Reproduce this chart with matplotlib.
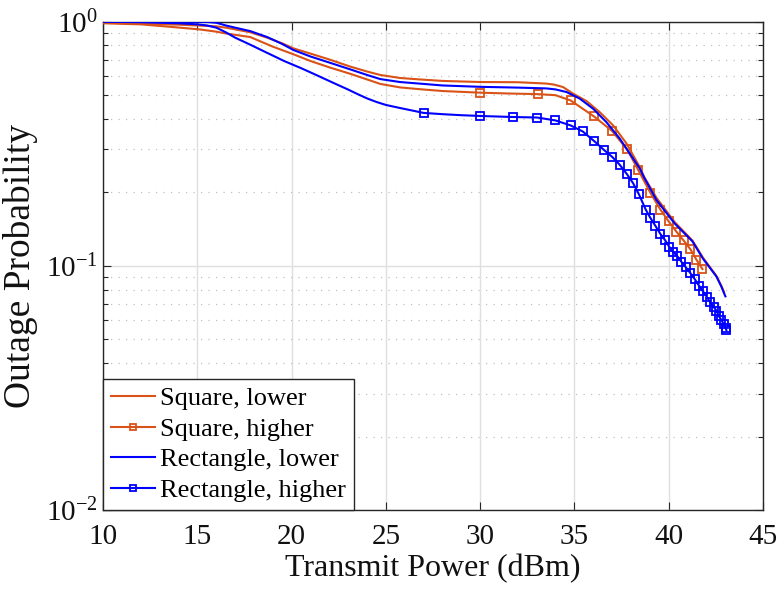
import numpy as np
import matplotlib
matplotlib.use("Agg")
import matplotlib.pyplot as plt
from matplotlib.ticker import FixedLocator, FixedFormatter, NullFormatter

plt.rcParams['font.family'] = ['Liberation Serif', 'DejaVu Serif']
plt.rcParams['mathtext.fontset'] = 'custom'
plt.rcParams['mathtext.rm'] = 'Liberation Serif'
plt.rcParams['mathtext.it'] = 'Liberation Serif:italic'

# ---------------- data ----------------
sq_low_x = [10, 12, 14, 15, 16, 16.5, 17, 17.8, 18.7, 19.5, 20.1, 21, 22, 23.1, 24, 24.7,
            25.75, 26.8, 28, 30, 32, 33.5, 33.9, 34.4, 34.94, 35.65, 36.35, 37.06, 37.77,
            38.47, 38.7, 39.36, 40.33, 41.27, 41.83, 42.54, 42.8, 42.95]
sq_low_y = [0.99, 0.982, 0.972, 0.965, 0.957, 0.945, 0.93, 0.905, 0.86, 0.815, 0.777, 0.74,
            0.70, 0.655, 0.625, 0.605, 0.588, 0.58, 0.572, 0.566, 0.565, 0.558, 0.553, 0.540,
            0.507, 0.473, 0.426, 0.376, 0.317, 0.254, 0.232, 0.19, 0.151, 0.127, 0.108,
            0.091, 0.083, 0.078]

sq_high_x = [10, 12, 13.4, 15.1, 16, 16.5, 17.8, 19.0, 20.1, 21, 22, 23.1, 24, 24.7, 25.75,
             26.8, 28, 30, 31.5, 33.05, 34.0, 34.8, 36.03, 37.0, 37.8, 38.38, 39.04, 39.57,
             40.01, 40.42, 40.8, 41.16, 41.48, 41.8]
sq_high_y = [0.985, 0.975, 0.955, 0.93, 0.91, 0.895, 0.865, 0.79, 0.735, 0.69, 0.65, 0.612,
             0.58, 0.556, 0.538, 0.529, 0.52, 0.512, 0.508, 0.505, 0.50, 0.476, 0.41, 0.357,
             0.30, 0.248, 0.199, 0.170, 0.152, 0.138, 0.127, 0.117, 0.106, 0.097]
sq_high_marks = [30, 33.05, 34.8, 36.03, 37.0, 37.8, 38.38, 39.04, 39.57, 40.01, 40.42,
                 40.8, 41.16, 41.48, 41.8]

rect_low_x = [10, 14, 15.5, 16.0, 16.5, 17.0, 17.8, 18.7, 19.5, 20.1, 21, 22, 23.1, 24, 24.7,
              25.75, 27, 28, 30, 32, 33.5, 34.0, 34.59, 35.29, 36.0, 36.7, 37.41, 38.12,
              38.47, 38.68, 39.36, 40.33, 41.27, 41.83, 42.54, 42.8, 42.98, 43.02]
rect_low_y = [1.0, 1.0, 0.998, 0.99, 0.965, 0.945, 0.915, 0.865, 0.81, 0.765, 0.72, 0.68,
              0.638, 0.605, 0.582, 0.566, 0.556, 0.548, 0.541, 0.537, 0.533, 0.528, 0.515,
              0.484, 0.44, 0.388, 0.332, 0.275, 0.251, 0.232, 0.186, 0.149, 0.126, 0.107,
              0.0905, 0.0824, 0.0762, 0.075]

rect_high_x = [10, 12, 14, 15, 15.5, 16, 16.5, 17, 17.8, 18.7, 19.6, 20.5, 21.3, 22.2, 23.0,
               23.5, 24.0, 24.5, 25.0, 25.75, 26.5, 27.0, 28, 29, 30.0, 31.74, 33.03, 34.0,
               34.8, 35.45, 36.06, 36.56, 37.02, 37.4, 37.8, 38.12, 38.42, 38.79, 39.04, 39.3,
               39.57, 39.8, 40.03, 40.24, 40.45, 40.68, 40.91, 41.16, 41.39, 41.62, 41.83,
               42.04, 42.22, 42.40, 42.54, 42.68, 42.8, 42.93, 43.03, 43.07]
rect_high_y = [1.0, 0.995, 0.985, 0.975, 0.965, 0.945, 0.905, 0.86, 0.805, 0.745, 0.69, 0.645,
               0.605, 0.562, 0.527, 0.505, 0.485, 0.469, 0.456, 0.443, 0.431, 0.423, 0.418,
               0.414, 0.411, 0.407, 0.405, 0.394, 0.376, 0.355, 0.324, 0.299, 0.279, 0.260,
               0.237, 0.218, 0.197, 0.170, 0.157, 0.146, 0.135, 0.128, 0.120, 0.114, 0.110,
               0.104, 0.0988, 0.0934, 0.0883, 0.0829, 0.0786, 0.0745, 0.0708, 0.0678, 0.0656,
               0.0621, 0.0601, 0.0578, 0.0557, 0.0545]
rect_high_marks = [27.0, 30.0, 31.74, 33.03, 34.0, 34.8, 35.45, 36.06, 36.56, 37.02, 37.4,
                   37.8, 38.12, 38.42, 38.79, 39.04, 39.3, 39.57, 39.8, 40.03, 40.24, 40.45,
                   40.68, 40.91, 41.16, 41.39, 41.62, 41.83, 42.04, 42.22, 42.40, 42.54,
                   42.68, 42.8, 42.93, 43.03, 43.07]

labels = ['Square, lower', 'Square, higher', 'Rectangle, lower', 'Rectangle, higher']
x_ticks = [10, 15, 20, 25, 30, 35, 40, 45]
y_ticks = [1e-2, 1e-1, 1e0]
y_tick_labels = [r'$10^{-2}$', r'$10^{-1}$', r'$10^{0}$']
x_label = 'Transmit Power (dBm)'
y_label = 'Outage Probability'

# ---------------- plot ----------------
orange = '#D95319'
blue = '#0000FF'
dark = '#262626'

fig = plt.figure(figsize=(7.79, 5.94), dpi=100)
ax = fig.add_axes([0.1326, 0.1414, 0.9791 - 0.1326, 0.9635 - 0.1414])

def idx_of(xs, marks):
    xs = np.asarray(xs)
    return [int(np.argmin(np.abs(xs - m))) for m in marks]

ax.plot(sq_low_x, sq_low_y, color=orange, lw=1.5, label=labels[0], zorder=3)
ax.plot(sq_high_x, sq_high_y, color=orange, lw=1.5, marker='s', ms=5.2, mfc='none', mew=1.3,
        markevery=idx_of(sq_high_x, sq_high_marks), label=labels[1], zorder=3)
ax.plot(rect_low_x, rect_low_y, color=blue, lw=1.5, label=labels[2], zorder=4)
ax.plot(rect_high_x, rect_high_y, color=blue, lw=1.5, marker='s', ms=5.2, mfc='none', mew=1.3,
        markevery=idx_of(rect_high_x, rect_high_marks), label=labels[3], zorder=4)

ax.set_yscale('log')
ax.set_xlim(10, 45)
ax.set_ylim(1e-2, 1e0)
ax.xaxis.set_major_locator(FixedLocator(x_ticks))
ax.yaxis.set_major_locator(FixedLocator(y_ticks))
ax.yaxis.set_major_formatter(FixedFormatter(y_tick_labels))
minor = [m * 10.0**e for e in (-2, -1) for m in range(2, 10)]
ax.yaxis.set_minor_locator(FixedLocator(minor))
ax.yaxis.set_minor_formatter(NullFormatter())

ax.grid(True, which='major', axis='both', color='#dfdfdf', lw=1.0, ls='-', zorder=0)
ax.grid(True, which='minor', axis='y', color='#c0c0c0', lw=0.9, ls=(0, (1, 5)), zorder=0)
ax.set_axisbelow(True)

for s in ax.spines.values():
    s.set_color(dark)
    s.set_linewidth(1.0)
ax.tick_params(which='both', direction='in', top=True, right=True, colors=dark,
               labelcolor='#111111', labelsize=21, width=0.8)
ax.tick_params(which='major', length=6)
ax.tick_params(which='minor', length=3.5)
ax.tick_params(axis='x', pad=10)
ax.tick_params(axis='y', pad=4)

ax.set_xlabel(x_label, fontsize=23, color='#111111', labelpad=3)
ax.set_ylabel(y_label, fontsize=27, color='#111111', labelpad=6)

leg = ax.legend(loc='lower left', fontsize=19, frameon=True, fancybox=False, framealpha=1,
                edgecolor=dark, borderaxespad=0, handlelength=1.65, handletextpad=0.2,
                labelspacing=0.27, borderpad=0.3, markerscale=0.75)
leg.get_frame().set_linewidth(1.0)

fig.savefig('out.png', dpi=100)
